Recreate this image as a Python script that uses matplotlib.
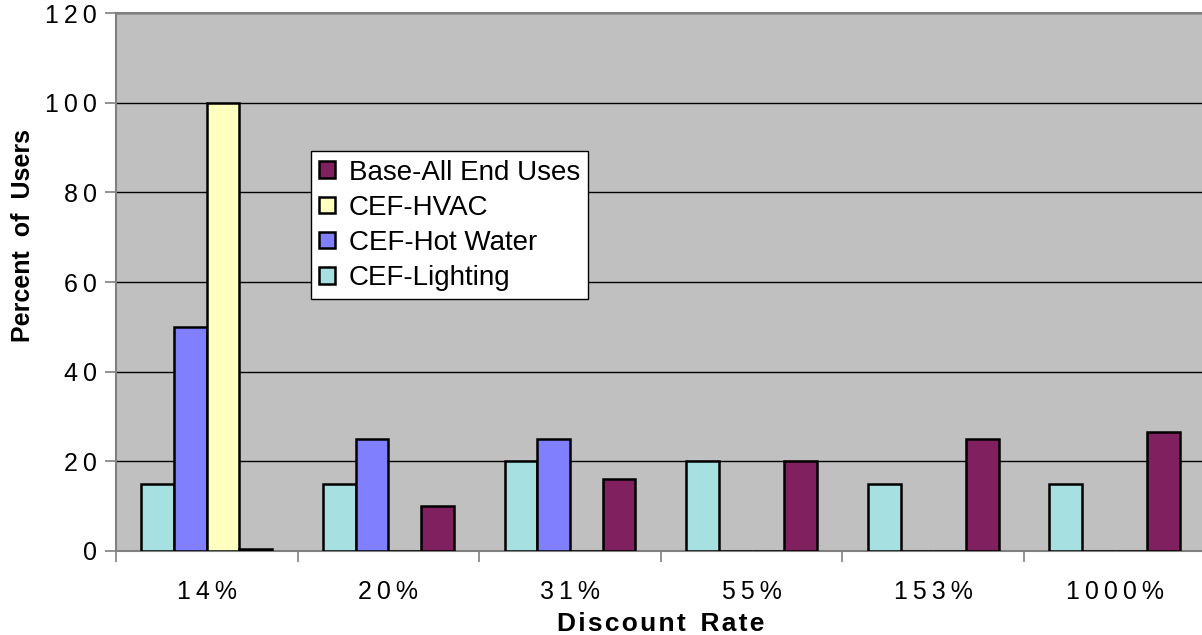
import matplotlib
matplotlib.use("Agg")
import matplotlib.pyplot as plt
import numpy as np

plt.rcParams['font.family'] = ['Liberation Sans', 'DejaVu Sans']

rates = ["14%", "20%", "31%", "55%", "153%", "1000%"]
lighting = [15, 15, 20, 20, 15, 15]
hot_water = [50, 25, 25, 0, 0, 0]
hvac = [100, 0, 0, 0, 0, 0]
base = [0.5, 10, 16, 20, 25, 26.5]

series = [
    ("CEF-Lighting", lighting, "#a6e0e0"),
    ("CEF-Hot Water", hot_water, "#8080ff"),
    ("CEF-HVAC", hvac, "#ffffc0"),
    ("Base-All End Uses", base, "#80205f"),
]


def spaced(s, sep="\u2009"):
    return sep.join(s)


fig = plt.figure(figsize=(12.02, 6.35), dpi=100)
ax = fig.add_axes([0.0965, 0.1323, 0.9065, 0.8472])
ax.set_facecolor("#c0c0c0")

x = np.arange(len(rates))
w = 0.18
handles = {}
for i, (name, vals, col) in enumerate(series):
    b = ax.bar(x + (i - 1.5) * w, vals, w, color=col, edgecolor="black",
               linewidth=1.8, zorder=3, label=name)
    handles[name] = b

ax.set_xlim(-0.5, len(rates) - 0.5)
ax.set_ylim(0, 120)
yt = np.arange(0, 121, 20)
ax.set_yticks(yt)
ax.set_yticklabels([spaced(str(v)) for v in yt], fontsize=18)
ax.yaxis.grid(True, color="black", linewidth=1.0, zorder=1)

ax.set_xticks(x)
ax.set_xticklabels([spaced(r) for r in rates], fontsize=18)
ax.set_xticks(np.arange(len(rates) + 1) - 0.5, minor=True)
ax.tick_params(axis="x", which="major", length=0, pad=21)
ax.tick_params(axis="x", which="minor", length=8, color="#808080", width=1.2)
ax.tick_params(axis="y", length=8, color="#808080", width=1.2, pad=6)

for s in ["left", "bottom", "top"]:
    ax.spines[s].set_color("#808080")
    ax.spines[s].set_linewidth(1.5)
ax.spines["right"].set_visible(False)

xlab = "  ".join(spaced(wd, "\u200a") for wd in ["Discount", "Rate"])
ax.set_xlabel(xlab, fontsize=19, fontweight="bold", labelpad=6)
ax.set_ylabel("Percent  of  Users", fontsize=18, fontweight="bold")
ax.yaxis.set_label_coords(-0.074, 0.587)

order = ["Base-All End Uses", "CEF-HVAC", "CEF-Hot Water", "CEF-Lighting"]
leg = ax.legend([handles[n] for n in order], order, loc="upper left",
                bbox_to_anchor=(0.179, 0.743), fontsize=20, frameon=True,
                fancybox=False, edgecolor="black", framealpha=1,
                handlelength=0.55, handleheight=0.55, handletextpad=0.5,
                labelspacing=0.33, borderpad=0.3, borderaxespad=0)
leg.get_frame().set_linewidth(1.0)
leg.set_zorder(5)

fig.savefig("out.png", dpi=100)
